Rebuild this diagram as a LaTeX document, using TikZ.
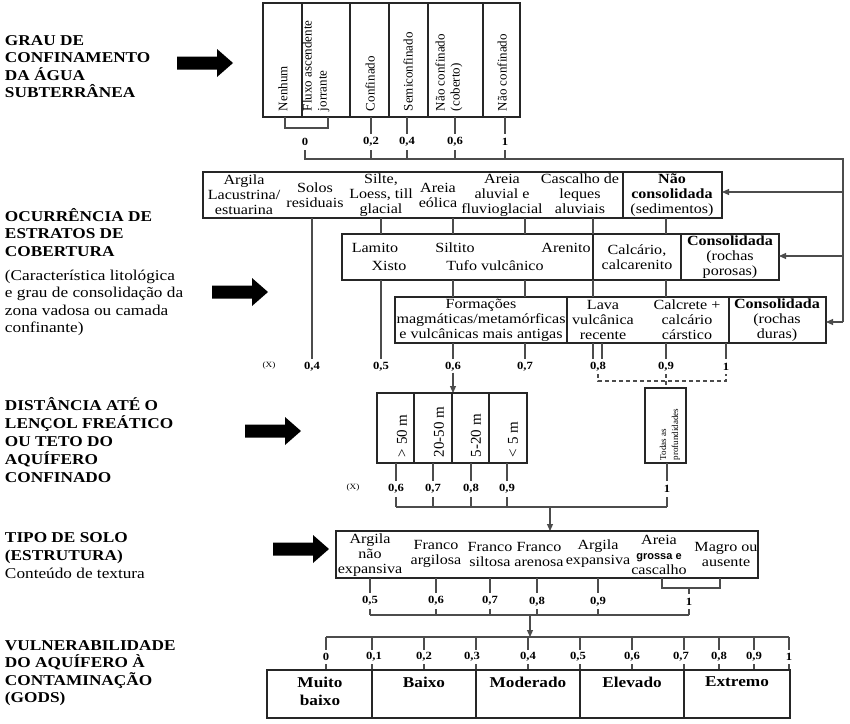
\documentclass[tikz,border=0pt]{standalone}
\usepackage{fontspec}
\setmainfont{Liberation Serif}[FakeStretch=1.15]
\newfontfamily\rotfont{Liberation Serif}
\setsansfont{Liberation Sans}
\usetikzlibrary{arrows.meta}
\newcommand\lstrut{\rule{0pt}{14pt}}
\begin{document}
\begin{tikzpicture}[x=1pt,y=-1pt,
  every node/.style={inner sep=0pt, outer sep=0pt},
  boxline/.style={draw=black!85, line width=1.2pt},
  conn/.style={draw=black!70, line width=1.1pt},
  arr/.style={conn, -{Triangle[length=7pt,width=6pt]}},
  dconn/.style={conn, dashed, dash pattern=on 4pt off 3pt},
  btxt/.style={align=center, font=\fontsize{14}{15}\selectfont},
  num/.style={font=\fontsize{11}{12}\selectfont\bfseries},
  xlab/.style={font=\fontsize{8}{9}\selectfont},
  lbl/.style={anchor=north west, align=left, font=\fontsize{15}{17.5}\selectfont},
  rtxt/.style={rotate=90, anchor=west, align=left, font=\rotfont\fontsize{13}{15}\selectfont},
  scl/.style={align=center, anchor=north, font=\fontsize{15}{18}\selectfont\bfseries},
  bigarrow/.pic={\fill (0,-6.5) -- (40,-6.5) -- (40,-14) -- (56,0) -- (40,14) -- (40,6.5) -- (0,6.5) -- cycle;}
]
\useasboundingbox[fill=white] (0,0) rectangle (850,723);

% ---------------- left labels ----------------
\node[lbl, font=\fontsize{15}{17.5}\selectfont\bfseries] (l1) at (5,31) {\lstrut GRAU DE\\CONFINAMENTO\\DA ÁGUA\\SUBTERRÂNEA};
\node[lbl, font=\fontsize{15}{17.5}\selectfont\bfseries] (l2) at (5,207) {\lstrut OCURRÊNCIA DE\\ESTRATOS DE\\COBERTURA};
\node[lbl] (l2b) at (5,266) {\lstrut (Característica litológica\\e grau de consolidação da\\zona vadosa ou camada\\confinante)};
\node[lbl, font=\fontsize{15}{18}\selectfont\bfseries] (l3) at (5,396) {\lstrut DISTÂNCIA ATÉ O\\LENÇOL FREÁTICO\\OU TETO DO\\AQUÍFERO\\CONFINADO};
\node[lbl, font=\fontsize{15}{18}\selectfont\bfseries] (l4) at (5,528) {\lstrut TIPO DE SOLO\\(ESTRUTURA)\\\mdseries Conteúdo de textura};
\node[lbl, font=\fontsize{15}{17.5}\selectfont\bfseries] (l5) at (5,636) {\lstrut VULNERABILIDADE\\DO AQUÍFERO À\\CONTAMINAÇÃO\\(GODS)};

\pic at (177,63) {bigarrow};
\pic at (212,292) {bigarrow};
\pic at (245,431) {bigarrow};
\pic at (273,549) {bigarrow};

% ---------------- section 1 ----------------
\draw[boxline] (263,3) rectangle (520,117);
\foreach \xx in {302,350,389,428,483} \draw[boxline] (\xx,3) -- (\xx,117);
\node[rtxt] (c1) at (283,111) {Nenhum};
\node[rtxt] (c2) at (316,111) {Fluxo ascendente\\jorrante};
\node[rtxt] (c3) at (370,111) {Confinado};
\node[rtxt] (c4) at (408,111) {Semiconfinado};
\node[rtxt] (c5) at (449,111) {Não confinado\\(coberto)};
\node[rtxt] (c6) at (502,111) {Não confinado};

\draw[conn] (285,117) -- (285,128) -- (328,128) -- (328,117);
\node[num] (g0) at (305,142) {0};
\node[num] (g2) at (371,142) {0,2};
\node[num] (g4) at (407,142) {0,4};
\node[num] (g6) at (455,142) {0,6};
\node[num] (g1) at (505,142) {1};
\foreach \n/\xx in {g2/371,g4/407,g6/455,g1/505} {
  \draw[conn] (\xx,117) -- (\xx,134);
  \draw[conn] (\xx,150) -- (\xx,159);
}
\draw[conn] (305,150) -- (305,159) -- (843,159) -- (843,322);
\coordinate (r1) at (843,192);
\coordinate (r2) at (843,256);
\coordinate (r3) at (843,322);

% ---------------- section 2 ----------------
\draw[boxline] (203,172) rectangle (722,218);
\draw[boxline] (623,172) -- (623,218);
\node[btxt] (a1) at (244,195) {Argila\\Lacustrina/\\estuarina};
\node[btxt] (a2) at (315,195) {Solos\\residuais};
\node[btxt] (a3) at (381,195) {Silte,\\Loess, till\\glacial};
\node[btxt] (a4) at (438,195) {Areia\\eólica};
\node[btxt] (a5) at (502,195) {Areia\\aluvial e\\fluvioglacial};
\node[btxt] (a6) at (580,194) {Cascalho de\\leques\\aluviais};
\node[btxt] (a7) at (672,195) {\textbf{Não}\\\textbf{consolidada}\\(sedimentos)};

\draw[boxline] (342,234) rectangle (779,280);
\draw[boxline] (593,234) -- (593,280);
\draw[boxline] (681,234) -- (681,280);
\node[btxt] (b1) at (375,248) {Lamito};
\node[btxt] (b2) at (389,266) {Xisto};
\node[btxt] (b3) at (455,248) {Siltito};
\node[btxt] (b4) at (495,266) {Tufo vulcânico};
\node[btxt] (b5) at (566,248) {Arenito};
\node[btxt] (b6) at (637,257) {Calcário,\\calcarenito};
\node[btxt] (b7) at (730,257) {\textbf{Consolidada}\\(rochas\\porosas)};

\draw[boxline] (395,297) rectangle (826,343);
\draw[boxline] (567,297) -- (567,343);
\draw[boxline] (729,297) -- (729,343);
\node[btxt] (d1) at (481,320) {Formações\\magmáticas/metamórficas\\e vulcânicas mais antigas};
\node[btxt] (d2) at (603,320) {Lava\\vulcânica\\recente};
\node[btxt] (d3) at (687,320) {Calcrete +\\calcário\\cárstico};
\node[btxt] (d4) at (777,320) {\textbf{Consolidada}\\(rochas\\duras)};

\draw[arr] (r1) -- (722,192);
\draw[arr] (r2) -- (779,256);
\draw[arr] (r3) -- (826,322);

% connectors row A -> B -> C -> labels
\node[xlab] (x2) at (269,366) {(X)};
\node[num] (o4) at (312,367) {0,4};
\node[num] (o5) at (381,367) {0,5};
\node[num] (o6) at (453,367) {0,6};
\node[num] (o7) at (525,367) {0,7};
\node[num] (o8) at (598,367) {0,8};
\node[num] (o9) at (666,367) {0,9};
\node[num] (o1) at (726,367) {1};
\draw[conn] (312,218) -- (312,359);
\draw[conn] (381,218) -- (381,234) (381,280) -- (381,359);
\foreach \xx in {453,525,593,666} {
  \draw[conn] (\xx,218) -- (\xx,234) (\xx,280) -- (\xx,297) (\xx,343) -- (\xx,359);
}
\draw[conn] (602,343) -- (602,359);
\draw[conn] (726,343) -- (726,359);
\draw[dconn] (598,374) -- (598,381) -- (726,381) -- (726,374);
\draw[dconn] (666,374) -- (666,388);
\draw[arr] (o6.south) ++(0,1) -- (453,393);

% ---------------- section 3 ----------------
\draw[boxline] (377,393) rectangle (527,463);
\foreach \xx in {414,452,489} \draw[boxline] (\xx,393) -- (\xx,463);
\node[rtxt, font=\rotfont\fontsize{15}{16}\selectfont] (e1) at (402,457) {> 50 m};
\node[rtxt, font=\rotfont\fontsize{15}{16}\selectfont] (e2) at (439,457) {20-50 m};
\node[rtxt, font=\rotfont\fontsize{15}{16}\selectfont] (e3) at (476,457) {5-20 m};
\node[rtxt, font=\rotfont\fontsize{15}{16}\selectfont] (e4) at (513,457) {< 5 m};
\draw[boxline] (645,388) rectangle (686,463);
\node[rtxt, font=\rotfont\fontsize{9}{12}\selectfont] (e5) at (670,460) {Todas as\\profundidades};

\node[xlab] (x3) at (353,488) {(X)};
\node[num] (p6) at (396,489) {0,6};
\node[num] (p7) at (433,489) {0,7};
\node[num] (p8) at (471,489) {0,8};
\node[num] (p9) at (507,489) {0,9};
\node[num] (p1) at (667,489) {1};
\foreach \xx in {396,433,471,507,667} {
  \draw[conn] (\xx,463) -- (\xx,481);
  \draw[conn] (\xx,497) -- (\xx,507);
}
\draw[conn] (396,507) -- (667,507);
\coordinate (j3) at (550,507);
\draw[arr] (j3) -- (550,531);

% ---------------- section 4 ----------------
\draw[boxline] (336,531) rectangle (758,578);
\node[btxt] (s1) at (370,555) {Argila\\não\\expansiva};
\node[btxt] (s2) at (436,554) {Franco\\argilosa};
\node[btxt] (s3) at (490,554) {Franco\\siltosa};
\node[btxt] (s4) at (539,554) {Franco\\arenosa};
\node[btxt] (s5) at (598,554) {Argila\\expansiva};
\node[btxt] (s6) at (659,555) {Areia\\{\sffamily\bfseries\fontsize{11}{15}\selectfont grossa e}\\cascalho};
\node[btxt] (s7) at (726,554) {Magro ou\\ausente};

\node[num] (q5) at (370,601) {0,5};
\node[num] (q6) at (436,601) {0,6};
\node[num] (q7) at (490,601) {0,7};
\node[num] (q8) at (537,602) {0,8};
\node[num] (q9) at (598,602) {0,9};
\node[num] (q1) at (689,602) {1};
\foreach \xx in {370,436,490,537,598} {
  \draw[conn] (\xx,578) -- (\xx,593);
  \draw[conn] (\xx,609) -- (\xx,615);
}
\draw[conn] (662,578) -- (662,588) -- (720,588) -- (720,578);
\draw[conn] (689,588) -- (689,594);
\draw[conn] (689,609) -- (689,615);
\draw[conn] (370,615) -- (689,615);
\coordinate (j4) at (530,615);
\draw[arr] (j4) -- (530,637);

% ---------------- section 5 ----------------
\draw[conn] (326,637) -- (789,637);
\foreach \v/\xx in {0/326,{0,1}/374,{0,2}/424,{0,3}/472,{0,4}/528,{0,5}/578,{0,6}/632,{0,7}/681,{0,8}/719,{0,9}/754,1/789} {
  \node[num] at (\xx,657) {\v};
}
\foreach \xx in {326,372,424,476,528,580,632,684,719,754,789} {
  \draw[conn] (\xx,637) -- (\xx,650);
  \draw[conn] (\xx,664) -- (\xx,670);
}
\draw[boxline] (267,670) rectangle (790,718);
\foreach \xx in {372,476,580,684} \draw[boxline] (\xx,670) -- (\xx,718);
\node[scl] (v1) at (320,677) {Muito\\baixo};
\node[scl] (v2) at (424,677) {Baixo};
\node[scl] (v3) at (528,677) {Moderado};
\node[scl] (v4) at (632,677) {Elevado};
\node[scl] (v5) at (737,677) {Extremo};
\end{tikzpicture}
\end{document}
